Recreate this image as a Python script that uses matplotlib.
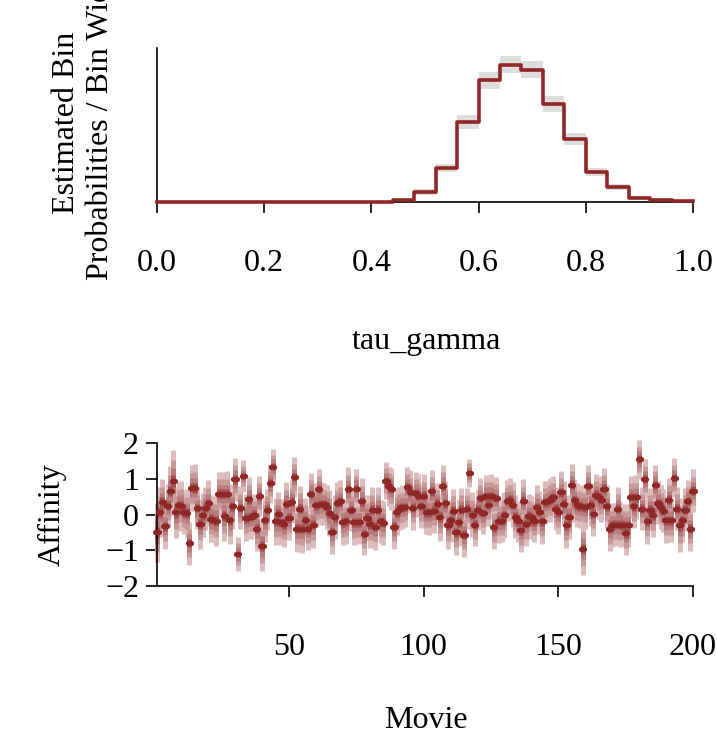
import numpy as np
import matplotlib
matplotlib.use('Agg')
import matplotlib.pyplot as plt

plt.rcParams['font.family'] = ['Liberation Serif', 'DejaVu Serif']
plt.rcParams['font.size'] = 23

# colours (light -> dark red)
c_light = '#DCBCBC'
c_light_highlight = '#C79999'
c_mid = '#B97C7C'
c_mid_highlight = '#A25050'
c_dark = '#8F2727'

# top panel: histogram of tau_gamma, 25 bins on [0, 1]
bin_edges = np.linspace(0, 1, 26)
bin_density = [0.00, 0.00, 0.00, 0.00, 0.00, 0.00, 0.00, 0.00, 0.00, 0.00, 0.00,
               0.08, 0.34, 1.17, 2.74, 4.18, 4.70, 4.53, 3.36, 2.16, 1.03, 0.51, 0.14, 0.06, 0.02]
bin_lower = [0.00, 0.00, 0.00, 0.00, 0.00, 0.00, 0.00, 0.00, 0.00, 0.00, 0.00,
             0.05, 0.25, 1.02, 2.50, 3.89, 4.41, 4.24, 3.09, 1.94, 0.88, 0.41, 0.09, 0.03, 0.00]
bin_upper = [0.00, 0.00, 0.00, 0.00, 0.00, 0.00, 0.00, 0.00, 0.00, 0.00, 0.00,
             0.11, 0.43, 1.32, 2.98, 4.47, 4.99, 4.82, 3.63, 2.38, 1.18, 0.61, 0.19, 0.09, 0.04]

# bottom panel: posterior affinity per movie (median and outer half width)
affinity = [-0.50, 0.07, 0.35, -0.33, 0.25, 0.65, 0.95, 0.06, 0.26, 0.25,
            0.07, 0.05, -0.80, 0.75, 0.75, 0.18, -0.26, -0.02, 0.18, 0.32,
            -0.12, -0.15, -0.17, 0.59, 0.58, -0.03, 0.58, -0.16, 0.23, 0.99,
            -1.10, 0.19, 1.08, -0.09, 0.43, -0.07, 0.00, -0.39, 0.52, -0.89,
            -0.15, 0.14, 0.88, 1.34, -0.19, 0.02, -0.21, -0.26, 0.30, -0.09,
            0.36, 1.05, -0.39, 0.17, -0.39, -0.15, -0.39, 0.58, -0.28, 0.26,
            0.72, 0.30, 0.30, 0.22, 0.04, -0.49, -0.07, 0.32, 0.37, -0.22,
            -0.19, 0.72, 0.13, -0.22, 0.73, -0.21, 0.37, -0.54, -0.09, -0.26,
            0.14, -0.34, 0.14, -0.19, -0.23, 0.95, 0.79, 0.72, -0.34, 0.07,
            0.17, 0.21, 0.22, 0.77, 0.64, 0.19, 0.61, 0.53, 0.24, 0.53,
            0.07, 0.07, 0.65, 0.11, 0.31, -0.07, 0.81, 0.32, -0.30, -0.16,
            0.11, -0.49, -0.22, 0.14, -0.56, 0.17, 1.17, 0.00, -0.28, 0.14,
            0.46, 0.05, 0.53, 0.28, 0.51, -0.36, 0.47, -0.17, -0.17, -0.02,
            0.39, 0.42, 0.28, -0.06, -0.19, -0.44, 0.39, -0.25, -0.03, -0.07,
            -0.19, 0.21, 0.07, -0.19, 0.34, 0.37, 0.41, 0.49, 0.17, 0.07,
            0.62, 0.31, -0.30, -0.07, 0.84, 0.40, 0.26, 0.23, -0.96, 0.21,
            0.81, 0.28, 0.02, 0.56, 0.49, 0.42, 0.73, 0.23, -0.39, -0.30,
            -0.28, 0.16, -0.28, -0.30, -0.52, -0.30, 0.49, 0.23, 0.49, 1.55,
            0.17, 1.00, -0.19, 0.14, -0.02, 0.84, 0.33, 0.21, 0.11, -0.16,
            0.42, -0.16, 1.03, 0.17, -0.30, -0.16, 0.14, 0.39, -0.40, 0.67]
half_width = [0.82, 0.70, 0.65, 0.62, 0.60, 0.70, 0.86, 0.72, 0.66, 0.70,
              0.62, 0.68, 0.60, 0.65, 0.66, 0.58, 0.70, 0.62, 0.60, 0.64,
              0.66, 0.62, 0.70, 0.60, 0.62, 0.72, 0.64, 0.66, 0.62, 0.60,
              0.47, 0.60, 0.44, 0.66, 0.62, 0.60, 0.58, 0.64, 0.56, 0.70,
              0.62, 0.58, 0.55, 0.50, 0.66, 0.62, 0.64, 0.66, 0.60, 0.62,
              0.60, 0.55, 0.66, 0.64, 0.68, 0.62, 0.60, 0.58, 0.66, 0.62,
              0.55, 0.60, 0.58, 0.62, 0.64, 0.60, 0.62, 0.58, 0.60, 0.62,
              0.62, 0.60, 0.58, 0.64, 0.55, 0.62, 0.66, 0.60, 0.64, 0.68,
              0.62, 0.66, 0.64, 0.60, 0.62, 0.52, 0.55, 0.58, 0.62, 0.64,
              0.60, 0.62, 0.58, 0.56, 0.60, 0.62, 0.58, 0.60, 0.62, 0.60,
              0.62, 0.64, 0.60, 0.62, 0.58, 0.66, 0.58, 0.62, 0.66, 0.60,
              0.62, 0.64, 0.66, 0.60, 0.62, 0.58, 0.40, 0.62, 0.60, 0.58,
              0.56, 0.60, 0.58, 0.60, 0.62, 0.60, 0.58, 0.62, 0.60, 0.64,
              0.58, 0.60, 0.62, 0.60, 0.58, 0.62, 0.60, 0.64, 0.62, 0.60,
              0.58, 0.62, 0.60, 0.64, 0.60, 0.58, 0.62, 0.58, 0.60, 0.62,
              0.60, 0.62, 0.64, 0.62, 0.58, 0.60, 0.62, 0.60, 0.72, 0.62,
              0.58, 0.60, 0.62, 0.58, 0.60, 0.62, 0.58, 0.60, 0.64, 0.62,
              0.60, 0.62, 0.64, 0.60, 0.62, 0.60, 0.58, 0.60, 0.62, 0.54,
              0.60, 0.56, 0.62, 0.60, 0.62, 0.56, 0.60, 0.62, 0.60, 0.64,
              0.60, 0.62, 0.55, 0.60, 0.75, 0.62, 0.60, 0.58, 0.62, 0.60]

movie = np.arange(1, len(affinity) + 1)
affinity = np.array(affinity)
half_width = np.array(half_width)

W, H = 717, 736
fig = plt.figure(figsize=(W / 100, H / 100), dpi=100)


def px_axes(left, top, right, bottom):
    return fig.add_axes([left / W, 1 - bottom / H, (right - left) / W, (bottom - top) / H])


# ---- top panel ----
ax1 = px_axes(157, 48, 693, 202)
dens = np.append(bin_density, bin_density[-1])
lo = np.append(bin_lower, bin_lower[-1])
hi = np.append(bin_upper, bin_upper[-1])
ax1.fill_between(bin_edges, lo, hi, step='post', color='#DDDDDD', lw=0, zorder=2)
ax1.step(bin_edges, dens, where='post', color=c_dark, lw=2.6, zorder=4, clip_on=False)
ax1.set_xlim(0, 1)
ax1.set_ylim(0, 5.28)
for s in ['top', 'right']:
    ax1.spines[s].set_visible(False)
ax1.spines['left'].set_linewidth(1.2)
ax1.spines['bottom'].set_linewidth(1.2)
ax1.spines['bottom'].set_zorder(3)
ax1.set_yticks([])
ax1.set_xticks([0, 0.2, 0.4, 0.6, 0.8, 1.0])
ax1.set_xticklabels(['0.0', '0.2', '0.4', '0.6', '0.8', '1.0'])
ax1.tick_params(axis='x', length=8, width=1.2, pad=26)
fig.text(352 / W, 1 - 342 / H, 'tau_gamma', ha='left', va='center')
# the second line runs off the top edge, as in the original
fig.text(66 / W, 1 - 123 / H, 'Estimated Bin', rotation=90, ha='center', va='center')
fig.text(101 / W, 1 - 120 / H, 'Probabilities / Bin Width', rotation=90, ha='center', va='center')

# ---- bottom panel ----
ax2 = px_axes(157, 440, 693, 586)
levels = [(1.00, c_light), (0.66, c_light_highlight), (0.41, c_mid), (0.20, c_mid_highlight)]
for frac, col in levels:
    ax2.vlines(movie, affinity - frac * half_width, affinity + frac * half_width,
               colors=col, lw=3.6, zorder=2, clip_on=False)
ax2.hlines(affinity, movie - 0.6, movie + 0.6, colors=c_dark, lw=3.8,
           capstyle='round', zorder=3, clip_on=False)
ax2.set_xlim(1, 200)
ax2.set_ylim(-2, 2.09)
for s in ['top', 'right']:
    ax2.spines[s].set_visible(False)
ax2.spines['left'].set_bounds(-2, 2)
ax2.spines['left'].set_linewidth(1.2)
ax2.spines['bottom'].set_linewidth(1.2)
ax2.set_xticks([50, 100, 150, 200])
ax2.set_yticks([-2, -1, 0, 1, 2])
ax2.tick_params(axis='x', length=8, width=1.2, pad=26)
ax2.tick_params(axis='y', length=8, width=1.2, pad=5)
fig.text(426 / W, 1 - 720 / H, 'Movie', ha='center', va='center')
fig.text(52 / W, 1 - 515 / H, 'Affinity', rotation=90, ha='center', va='center')

fig.savefig('out.png', dpi=100)
